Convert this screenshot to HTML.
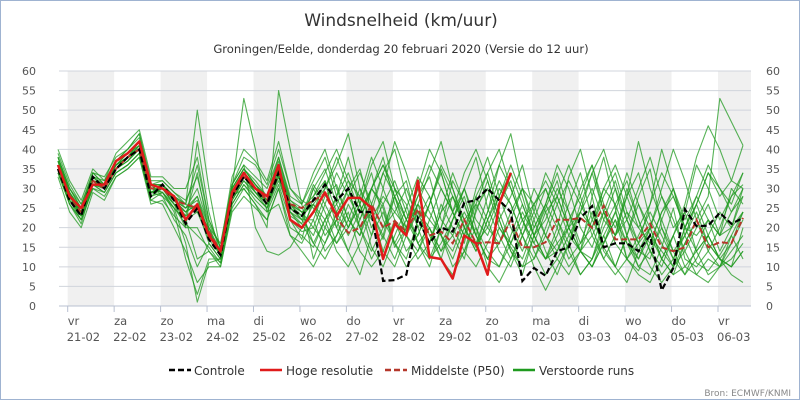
<!DOCTYPE html>
<html><head><meta charset="utf-8"><style>
body{margin:0;background:#fff;}
#wrap{width:800px;height:400px;position:relative;box-sizing:border-box;border:1px solid #9fb3d1;overflow:hidden;}
svg text{font-family:"DejaVu Sans","Liberation Sans",sans-serif;}
</style></head><body>
<div id="wrap">
<svg id="chart" width="800" height="400">
<text x="400" y="25" text-anchor="middle" font-size="17" fill="#333">Windsnelheid (km/uur)</text>
<text x="400" y="52" text-anchor="middle" font-size="11.6" fill="#333">Groningen/Eelde, donderdag 20 februari 2020 (Versie do 12 uur)</text>
<g id="bands"></g><g id="grid"></g><g id="axes"></g><g id="series"></g>
<g id="legend">
<g><line x1="168" y1="369" x2="190" y2="369" stroke="#000" stroke-width="2.5" stroke-dasharray="6,3"/><text x="193" y="374" font-size="12" fill="#333">Controle</text></g>
<g><line x1="259" y1="369" x2="281" y2="369" stroke="#e01b1b" stroke-width="2.5"/><text x="285" y="374" font-size="12" fill="#333">Hoge resolutie</text></g>
<g><line x1="384" y1="369" x2="406" y2="369" stroke="#b5372a" stroke-width="2.5" stroke-dasharray="6,3"/><text x="410" y="374" font-size="12" fill="#333">Middelste (P50)</text></g>
<g><line x1="512" y1="369" x2="534" y2="369" stroke="#1f9a1f" stroke-width="2.5"/><text x="538" y="374" font-size="12" fill="#333">Verstoorde runs</text></g>
</g>
<text x="790" y="395" text-anchor="end" font-size="9" fill="#888">Bron: ECMWF/KNMI</text>
</svg></div>
<script>
const dayNames=["vr","za","zo","ma","di","wo","do","vr","za","zo","ma","di","wo","do","vr"];
const dayDates=["21-02","22-02","23-02","24-02","25-02","26-02","27-02","28-02","29-02","01-03","02-03","03-03","04-03","05-03","06-03"];
const yTicks=[0,5,10,15,20,25,30,35,40,45,50,55,60];
const hires=[36,28,25,31,31,37,39,42,31,30,28,22,26,18,14,29,34,30,28,36,22,20,24,29,23,27.6,27.6,25,12,21,18,32,12.5,12,7,18,16,8,26,34];
const control=[35,27,23,33,30,35,38,40,28,31,27,21,25,17,13,28,33,30,26,34,25,23,27,31,27,30,24,24,6.4,6.6,8,22.5,16,20,19,26.4,27,30,27,24,6.4,9.7,7.7,14,15,22.5,25.5,15,16,16,14,18,4,9.7,24.7,20.4,20.5,23.8,21,22.5];
const p50=[35,27,24,32,30,35,38,40,30,30,27,26,25,19,14,28,33,30,27,34,26,25,27,28.6,22.5,18.7,20,26,20,21.7,19,24.8,18,19,16,22,16,16.3,16,22,15,15,16.3,22,22,22.5,20,25.6,17,17,17,21,15,14,15,22,15,16.3,16,22.5];
const m1=[38,30,25,33,31,37,40,43,29,31,28,26,50,30,14,30,35,31,28,38,27,24,20,28,31,22,18,30,25,15,20,28,33,22,18,12,25,30,20,15,10,18,25,32,20,14,12,22,30,18,10,8,15,25,12,10,14,20,28,31];
const m2=[34,26,22,30,29,34,36,39,27,29,24,12,3,12,12,27,32,28,25,33,23,21,30,35,26,20,28,38,30,22,14,18,26,35,28,20,15,24,36,30,22,16,12,20,33,40,28,15,10,18,28,35,20,12,8,15,22,18,30,26];
const m3=[40,32,27,35,32,39,42,45,33,33,30,30,38,22,15,33,40,37,32,42,30,27,25,18,22,30,35,24,17,28,32,20,12,16,22,30,38,25,18,12,20,30,24,16,10,14,28,38,25,12,9,16,24,30,18,11,9,13,18,24];
const m4=[33,24,20,29,27,33,35,38,26,27,23,20,20,14,10,25,30,26,22,30,20,18,15,22,28,34,26,15,10,18,25,33,28,18,12,20,28,22,14,10,18,26,30,22,14,8,12,20,26,32,22,14,10,18,24,14,8,10,16,22];
const m5=[37,29,23,31,31,35,37,40,31,28,22,18,10,16,12,28,33,29,26,34,22,17,28,32,24,18,24,30,36,28,18,14,22,30,24,16,28,34,24,16,12,20,26,36,30,20,15,24,18,28,34,22,16,10,20,28,22,14,20,30];
const m6=[35,28,25,32,30,36,38,42,29,30,26,24,28,18,14,30,53,40,24,26,18,16,22,14,18,26,20,12,18,30,26,16,10,20,32,26,18,12,16,24,30,22,14,8,16,24,20,12,18,30,22,14,8,12,20,26,18,12,10,14];
const m7=[36,27,22,31,30,35,38,40,28,30,26,22,24,17,13,28,30,26,20,55,40,26,34,40,30,22,18,26,34,40,28,20,26,34,24,18,30,38,28,20,14,22,30,22,16,26,34,24,18,22,30,38,28,20,24,36,30,22,28,34];
const m8=[39,31,26,34,33,38,40,44,32,32,29,26,24,20,16,31,36,20,14,13,15,20,26,20,16,22,30,24,14,10,18,24,20,14,22,28,18,12,10,16,22,14,8,12,18,14,10,16,22,12,8,6,12,18,10,8,12,10,14,18];
const m9=[34,27,23,31,29,34,36,39,29,28,25,22,12,14,11,26,31,28,25,32,24,22,18,26,34,28,22,30,38,26,18,26,34,42,30,22,16,24,32,26,18,24,34,28,20,30,36,26,20,28,42,30,22,14,18,26,34,28,32,30];
const m10=[37,29,24,32,31,36,39,41,30,31,27,24,26,19,14,29,34,31,27,36,26,23,31,26,20,28,34,26,20,24,30,22,16,24,28,20,14,22,28,34,26,18,22,30,24,16,20,28,34,24,16,20,28,22,14,20,26,18,24,28];
const m11=[36,28,23,33,30,36,38,41,30,29,26,20,42,24,13,28,34,29,27,35,26,22,22,30,36,44,30,20,26,32,24,16,12,20,28,22,16,20,28,36,28,18,12,18,26,34,22,16,24,34,26,18,12,18,26,38,46,40,32,41];
const m12=[35,27,24,31,30,35,37,40,29,30,27,25,30,20,13,28,33,30,26,34,24,21,16,12,18,24,14,10,14,22,18,12,16,26,20,14,10,16,22,14,10,12,18,12,8,14,18,12,8,12,16,10,6,10,14,8,6,10,12,16];
const m13=[38,30,25,34,31,37,39,42,31,31,28,26,36,22,15,30,35,32,28,37,27,25,28,34,40,32,24,30,36,30,22,28,36,30,24,34,40,32,22,28,36,24,18,26,32,26,20,30,36,28,20,26,40,30,22,28,36,30,26,34];
const m14=[34,26,22,30,28,33,35,38,27,26,20,14,6,10,10,24,28,25,22,30,18,14,10,16,22,14,8,18,24,16,10,14,20,12,8,14,20,10,6,12,18,10,4,10,16,8,12,18,10,6,14,20,12,8,10,14,18,12,8,6];
const m15=[37,28,24,32,31,36,38,40,30,30,27,24,26,18,13,30,35,31,27,36,26,24,26,22,26,32,28,22,28,24,20,26,22,18,24,30,22,18,26,32,22,16,24,28,20,24,30,22,18,24,20,16,24,28,20,18,22,18,20,24];
const m16=[35,28,23,32,30,35,38,40,29,30,26,23,25,16,12,27,32,29,26,33,25,22,30,24,16,20,26,34,22,16,22,30,24,18,14,22,26,20,16,22,30,26,18,14,22,28,36,24,16,12,18,24,18,12,18,24,16,12,10,20];
const m17=[37,30,26,33,32,37,40,44,31,32,29,27,33,21,15,31,36,33,30,38,28,26,12,20,28,38,26,18,30,42,34,24,16,24,34,26,18,28,36,44,30,20,26,34,24,14,22,30,26,18,12,20,30,40,32,22,28,53,47,41];
const m18=[36,27,23,32,30,35,37,41,30,29,25,16,1,11,12,27,33,29,25,34,24,20,24,32,20,14,22,30,26,16,12,22,28,18,10,14,24,32,22,14,8,18,26,20,12,16,24,14,10,18,26,20,12,8,16,22,14,10,18,12];
const m19=[38,29,24,34,31,36,39,42,30,31,28,25,28,20,14,31,38,36,31,40,30,26,32,38,28,20,26,36,42,30,22,18,26,36,30,20,14,22,30,26,18,12,20,28,36,28,18,24,32,22,14,12,22,30,20,14,18,24,20,28];
const m20=[35,26,21,31,29,34,36,39,28,29,25,21,18,15,11,26,31,27,24,31,22,19,20,16,24,30,20,14,20,28,22,16,20,14,18,24,18,12,20,16,24,18,12,16,20,14,10,16,22,16,10,14,20,14,8,12,18,12,10,14];
const m21=[36,28,24,33,30,35,38,41,29,30,27,23,34,19,13,29,34,30,27,35,25,23,26,30,38,30,20,24,34,28,20,30,40,34,24,18,26,34,40,30,22,26,32,26,18,24,34,40,30,22,16,26,34,28,20,26,34,30,24,30];
const m22=[37,29,25,32,31,36,38,42,31,31,27,25,27,19,14,30,35,31,28,36,26,24,16,22,14,10,16,24,18,12,20,26,18,12,22,30,20,14,10,18,26,18,12,14,20,14,10,18,24,16,12,18,14,10,16,22,16,12,16,24];
const members=[m1,m2,m3,m4,m5,m6,m7,m8,m9,m10,m11,m12,m13,m14,m15,m16,m17,m18,m19,m20,m21,m22];

const NS="http://www.w3.org/2000/svg";
const X0=58,X1=750,Y0=305,Y1=70,DAY0=66.7,DAYW=46.45,STEP0=57,STEPW=11.61;
function yScale(v){return Y0-(v/60)*(Y0-Y1);}
function dayX(d){return DAY0+d*DAYW;}
function stepX(i){return STEP0+i*STEPW;}
function mk(tag,attrs,parent){const e=document.createElementNS(NS,tag);for(const k in attrs)e.setAttribute(k,attrs[k]);parent.appendChild(e);return e;}
const bands=document.getElementById('bands'),grid=document.getElementById('grid'),axes=document.getElementById('axes'),series=document.getElementById('series');
for(let d=0;d<dayNames.length;d+=2){
  const x=dayX(d),w=Math.min(DAYW,X1-x);
  const r=mk('rect',{x:x,y:Y1,width:w,height:Y0-Y1,fill:'#f0f0f0'},bands);
  
  
}
yTicks.forEach(v=>{
  const y=yScale(v);
  const l=mk('line',{x1:X0,x2:X1,y1:y,y2:y,stroke:v===0?'#b8c0d0':'#d0d4dc','stroke-width':1},grid);
  
  
  const t1=mk('text',{x:35,y:y+4,'text-anchor':'end','font-size':11,fill:'#555'},axes);t1.textContent=v;
  
  
  const t2=mk('text',{x:765,y:y+4,'font-size':11,fill:'#555'},axes);t2.textContent=v;
  
  
});
dayNames.forEach((n,d)=>{
  const x=dayX(d);
  const tk=mk('line',{x1:x,x2:x,y1:Y0,y2:Y0+6,stroke:'#b8c0d0'},axes);
  
  
  const t=mk('text',{x:x,y:324,'font-size':11.5,fill:'#555'},axes);t.textContent=n;
  
  
  const t2=mk('text',{x:x-1,y:340,'font-size':11.5,fill:'#555'},axes);t2.textContent=dayDates[d];
  
  
});
function path(arr){return arr.map((v,i)=>(i?'L':'M')+stepX(i).toFixed(1)+','+yScale(v).toFixed(1)).join(' ');}
members.forEach((m,k)=>{
  const p=mk('path',{d:path(m),fill:'none',stroke:'#1f9a1f','stroke-width':1.1,'stroke-opacity':0.75,'stroke-linejoin':'round'},series);
  
  
});
const pp=mk('path',{d:path(p50),fill:'none',stroke:'#b5372a','stroke-width':2,'stroke-dasharray':'6,3'},series);


const pc=mk('path',{d:path(control),fill:'none',stroke:'#000','stroke-width':2.2,'stroke-dasharray':'6,3'},series);


const ph=mk('path',{d:path(hires),fill:'none',stroke:'#e01b1b','stroke-width':2.5,'stroke-linejoin':'round'},series);


</script>
</body></html>
